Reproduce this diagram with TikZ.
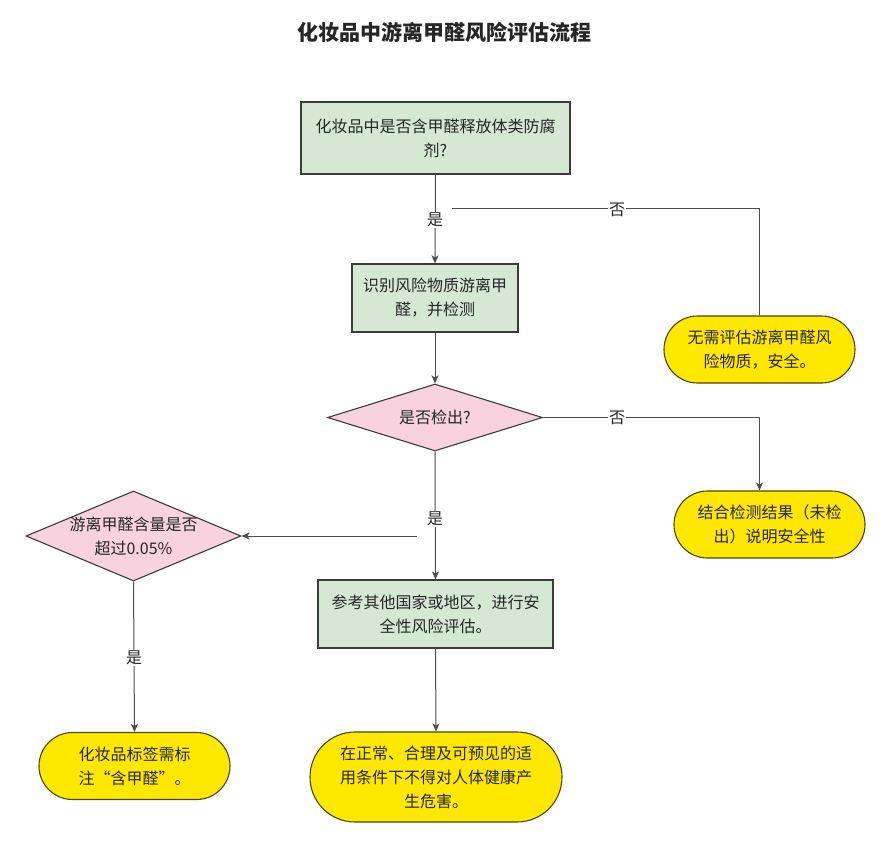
\documentclass[tikz,border=0pt]{standalone}
\usepackage{fontspec}
\setmainfont{Noto Sans CJK SC}
\usetikzlibrary{shapes.geometric,shapes.misc,arrows.meta}
\definecolor{gfill}{HTML}{D5E8D4}
\definecolor{pfill}{HTML}{F8D2DE}
\definecolor{yfill}{HTML}{FFE800}
\definecolor{edgec}{HTML}{4D4D4D}
\definecolor{bordc}{HTML}{3C3C3C}
\definecolor{ybord}{HTML}{4F4500}
\definecolor{txtc}{HTML}{262626}
\begin{document}
\begin{tikzpicture}[x=1pt,y=-1pt,
  every node/.style={font=\fontsize{16}{24}\selectfont, text=txtc},
  gbox/.style={rectangle, draw=bordc, fill=gfill, line width=1.1pt, align=center, inner sep=0pt},
  ybox/.style={rounded rectangle, draw=ybord, fill=yfill, line width=1.1pt, align=center, inner sep=0pt},
  dia/.style={diamond, draw=bordc, fill=pfill, line width=1.1pt, inner sep=0pt},
  lbl/.style={fill=white, inner sep=1pt},
  conn/.style={draw=edgec, line width=1pt},
  arr/.style={conn, -{Stealth[length=8pt,width=7pt,inset=2pt]}}
]
\useasboundingbox (0,0) rectangle (889,848);

\node[font=\fontsize{21}{25}\selectfont\bfseries] (title) at (444,32) {化妆品中游离甲醛风险评估流程};

\node[gbox, minimum width=269pt, minimum height=72pt] (b1) at (435.5,138) {化妆品中是否含甲醛释放体类防腐\\剂?};
\node[gbox, minimum width=166pt, minimum height=68pt] (b2) at (435,298) {识别风险物质游离甲\\醛，并检测};
\node[dia, minimum width=215pt, minimum height=67pt,
      label={[align=center]center:是否检出?}] (d1) at (435,417.5) {};
\node[ybox, minimum width=191pt, minimum height=67pt] (y1) at (759.5,349.5) {无需评估游离甲醛风\\险物质，安全。};
\node[ybox, minimum width=191pt, minimum height=67pt] (y2) at (769.5,524.5) {结合检测结果（未检\\出）说明安全性};
\node[dia, minimum width=215pt, minimum height=90pt,
      label={[align=center]center:游离甲醛含量是否\\超过0.05\%}] (d2) at (133.5,536) {};
\node[gbox, minimum width=235pt, minimum height=68pt] (b3) at (435.5,614) {参考其他国家或地区，进行安\\全性风险评估。};
\node[ybox, minimum width=191pt, minimum height=67pt] (y3) at (134.5,766) {化妆品标签需标\\注“含甲醛”。};
\node[ybox, minimum width=252pt, minimum height=90pt] (y4) at (436,777) {在正常、合理及可预见的适\\用条件下不得对人体健康产\\生危害。};

\coordinate (c1) at (452,208);
\coordinate (c2) at (417,536);

\draw[arr] (b1.south) -- (b2.north);
\draw[conn] (c1) -| (y1.north);
\draw[arr] (b2.south) -- (d1.north);
\draw[arr] (d1.east) -| ([xshift=-10pt]y2.north);
\draw[arr] (d1.south) -- (b3.north);
\draw[arr] (c2) -- (d2.east);
\draw[arr] (d2.south) -- (y3.north);
\draw[arr] (b3.south) -- (y4.north);

\node[lbl] (l1) at (435,220) {是};
\node[lbl] (l2) at (617,210) {否};
\node[lbl] (l3) at (617,418) {否};
\node[lbl] (l4) at (435,519) {是};
\node[lbl] (l5) at (134,658) {是};
\end{tikzpicture}
\end{document}
